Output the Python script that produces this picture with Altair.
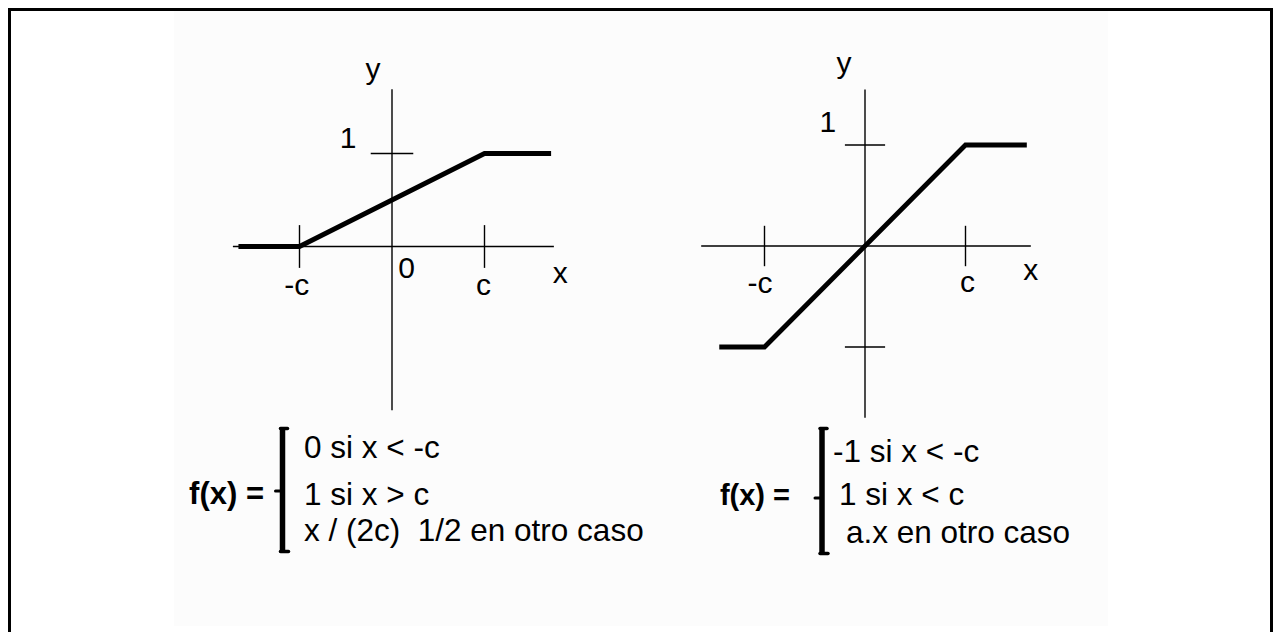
import altair as alt
import pandas as pd

# ---------------- data (x in multiples of c, y = f(x)) ----------------
left_fx = [-1.66, -1.0, 1.0, 1.72]
left_fy = [0.0, 0.0, 1.0, 1.0]
right_fx = [-1.45, -1.0, 1.0, 1.61]
right_fy = [-1.0, -1.0, 1.0, 1.0]

left_xticks = [-1.0, 1.0]
left_yticks = [1.0]
right_xticks = [-1.0, 1.0]
right_yticks = [-1.0, 1.0]

left_xaxis = [-1.72, 1.75]
left_yaxis = [-1.76, 1.69]
right_xaxis = [-1.63, 1.65]
right_yaxis = [-1.70, 1.55]

left_labels = ["y", "1", "-c", "0", "c", "x"]
left_label_x = [-0.205, -0.476, -1.03, 0.157, 0.99, 1.82]
left_label_y = [1.80, 1.06, -0.52, -0.34, -0.52, -0.39]
right_labels = ["y", "1", "-c", "c", "x"]
right_label_x = [-0.21, -0.37, -1.045, 1.02, 1.65]
right_label_y = [1.71, 1.13, -0.465, -0.455, -0.34]

left_formula = ["0 si x < -c", "1 si x > c", "x / (2c)\u00a0\u00a01/2 en otro caso"]
right_formula = ["-1 si x < -c", "1 si x < c", "a.x en otro caso"]
lhs_text = "f(x) ="

# ---------------- layout ----------------
W, H = 1265, 624
FONT = "Liberation Sans"
BLACK = "#000000"


def diagram(fx, fy, xticks, yticks, xaxis, yaxis, tick_half, labels, lx, ly,
            ox, oy, sx, sy):
    xs = alt.Scale(domain=[(0 - ox) / sx, (W - ox) / sx], nice=False, zero=False)
    ys = alt.Scale(domain=[(oy - H) / sy, oy / sy], nice=False, zero=False)

    segs = [dict(x=xaxis[0], x2=xaxis[1], y=0.0, y2=0.0),
            dict(x=0.0, x2=0.0, y=yaxis[0], y2=yaxis[1])]
    for t in xticks:
        segs.append(dict(x=t, x2=t, y=-tick_half, y2=tick_half))
    for t in yticks:
        segs.append(dict(x=-tick_half, x2=tick_half, y=t, y2=t))
    rules = alt.Chart(pd.DataFrame(segs)).mark_rule(
        color=BLACK, strokeWidth=1.4
    ).encode(
        x=alt.X("x:Q", scale=xs, axis=None), x2="x2:Q",
        y=alt.Y("y:Q", scale=ys, axis=None), y2="y2:Q",
    )

    fdf = pd.DataFrame({"x": fx, "y": fy, "i": list(range(len(fx)))})
    func = alt.Chart(fdf).mark_line(
        color=BLACK, strokeWidth=4.8, strokeJoin="miter", strokeCap="butt"
    ).encode(
        x=alt.X("x:Q", scale=xs, axis=None),
        y=alt.Y("y:Q", scale=ys, axis=None),
        order="i:O",
    )

    ldf = pd.DataFrame({"t": labels, "x": lx, "y": ly})
    text = alt.Chart(ldf).mark_text(
        font=FONT, fontSize=30, color=BLACK, align="center", baseline="alphabetic"
    ).encode(
        x=alt.X("x:Q", scale=xs, axis=None),
        y=alt.Y("y:Q", scale=ys, axis=None),
        text="t:N",
    )
    return alt.layer(rules, func, text)


left = diagram(left_fx, left_fy, left_xticks, left_yticks, left_xaxis, left_yaxis,
               0.23, left_labels, left_label_x, left_label_y,
               ox=392 - 8, oy=246.5 - 8, sx=92.5, sy=93)
right = diagram(right_fx, right_fy, right_xticks, right_yticks, right_xaxis, right_yaxis,
                0.2, right_labels, right_label_x, right_label_y,
                ox=865 - 8, oy=246 - 8, sx=100.5, sy=101)

dummy = pd.DataFrame({"k": [0]})


def vrule(x, y1, y2, w):
    return alt.Chart(dummy).mark_rule(color=BLACK, strokeWidth=w, strokeCap="butt").encode(
        x=alt.value(x), y=alt.value(y1), y2=alt.value(y2))


def hrule(y, x1, x2, w, cap="butt"):
    return alt.Chart(dummy).mark_rule(color=BLACK, strokeWidth=w, strokeCap=cap).encode(
        y=alt.value(y), x=alt.value(x1), x2=alt.value(x2))


def line_text(s, x, y, align="left", weight="normal", size=31.5):
    return alt.Chart(pd.DataFrame({"t": [s]})).mark_text(
        font=FONT, fontSize=size, fontWeight=weight, color=BLACK,
        align=align, baseline="alphabetic"
    ).encode(x=alt.value(x), y=alt.value(y), text="t:N")


bg = alt.Chart(dummy).mark_rect(color="#fcfcfc").encode(
    x=alt.value(166), x2=alt.value(1100), y=alt.value(2), y2=alt.value(618))

border = [vrule(1.5, 0, H, 3), hrule(1.5, 0, W, 3), vrule(W - 1.5, 0, H, 3)]


def brace(xc, top, bottom, mid):
    return [
        vrule(xc, top, bottom, 5.5),
        hrule(top + 1.5, xc - 2, xc + 5, 3.5, "round"),
        hrule(bottom - 1.5, xc - 2, xc + 6, 3.5, "round"),
        hrule(mid, xc - 7, xc, 3, "round"),
    ]


formulas = []
formulas += brace(274.5, 419, 545, 483)
formulas += brace(814, 419, 547, 490)
formulas.append(line_text(lhs_text, 256, 496, align="right", weight="bold", size=31))
formulas.append(line_text(lhs_text, 782, 497, align="right", weight="bold", size=29))
for s, y in zip(left_formula, [450, 497, 533]):
    formulas.append(line_text(s, 296, y))
for s, x, y in zip(right_formula, [825, 831, 838], [454, 497, 535]):
    formulas.append(line_text(s, x, y))

chart = alt.layer(bg, *border, left, right, *formulas).resolve_scale(
    x="independent", y="independent"
).properties(
    width=W, height=H, padding=0, autosize="none", background="white"
).configure_view(stroke=None)

chart.save("out.html", embed_options={"renderer": "svg", "actions": False})
